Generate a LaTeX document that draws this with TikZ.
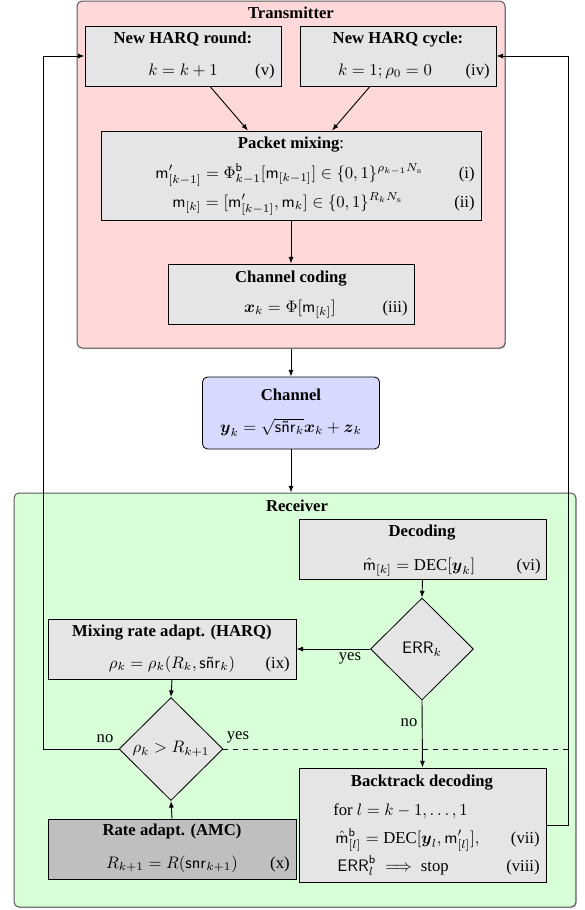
\documentclass[tikz,border=0pt]{standalone}
\usepackage{amsmath,amssymb}
\usepackage[no-math]{fontspec}
\setmainfont{Liberation Serif}
\usetikzlibrary{arrows.meta,shapes.geometric,calc,shadows}
\tikzset{
 grp/.style={rounded corners=3pt, draw=black!65, line width=0.6pt, inner sep=0pt,
   drop shadow={shadow xshift=0.5pt, shadow yshift=-0.6pt, opacity=0.45, fill=black!60}},
 stepbox/.style={draw, fill=gray!20, line width=0.5pt, inner sep=0pt},
 dia/.style={diamond, draw, fill=gray!20, aspect=1, inner sep=0pt, line width=0.5pt},
 txt/.style={inner sep=0pt, anchor=base},
 txl/.style={inner sep=0pt, anchor=base west},
 tag/.style={inner sep=0pt, anchor=base east},
 ttl/.style={inner sep=0pt, anchor=base, font=\bfseries},
 lbl/.style={inner sep=0pt},
 arr/.style={-{Latex[length=4pt,width=3pt]}, line width=0.55pt},
 conn/.style={line width=0.55pt}
}
\begin{document}
\begin{tikzpicture}[x=0.6pt,y=-0.6pt]
\useasboundingbox (0,0) rectangle (585,910);
% Transmitter
\node[grp, fill=red!15, minimum width=256.8pt, minimum height=208.2pt] (tx) at (291,174.5) {};
\node[ttl] (txT) at (291,18) {Transmitter};
\node[stepbox, minimum width=117.6pt, minimum height=36pt] (round) at (183,56) {};
\node[ttl] (roundT) at (183,43) {New HARQ round:};
\node[txt] (roundF) at (183,75) {$k = k+1$};
\node[tag] (roundG) at (275,75) {(v)};
\node[stepbox, minimum width=117.6pt, minimum height=36pt] (cycle) at (398,56) {};
\node[ttl] (cycleT) at (398,43) {New HARQ cycle:};
\node[txt] (cycleF) at (385,75) {$k = 1; \rho_0 = 0$};
\node[tag] (cycleG) at (490,75) {(iv)};
\node[stepbox, minimum width=228pt, minimum height=53.4pt] (mix) at (291,175.5) {};
\node[ttl] (mixT) at (291,148) {Packet mixing\textmd{:}};
\node[txl] (mixF1) at (155,178) {$\mathsf{m}'_{[k-1]} = \Phi^{\mathsf{b}}_{k-1}[\mathsf{m}_{[k-1]}] \in \{0,1\}^{\rho_{k-1} N_{\mathrm{s}}}$};
\node[txl] (mixF2) at (172,207) {$\mathsf{m}_{[k]} = [\mathsf{m}'_{[k-1]}, \mathsf{m}_k] \in \{0,1\}^{R_k N_{\mathrm{s}}}$};
\node[tag] (mixG1) at (475,178) {(i)};
\node[tag] (mixG2) at (475,207) {(ii)};
\node[stepbox, minimum width=147.6pt, minimum height=36pt] (coding) at (291,294) {};
\node[ttl] (codingT) at (291,282) {Channel coding};
\node[txt] (codingF) at (290,312) {$\boldsymbol{x}_k = \Phi[\mathsf{m}_{[k]}]$};
\node[tag] (codingG) at (408,312) {(iii)};
% Channel
\node[draw, rounded corners=3pt, fill=blue!15, line width=0.5pt, inner sep=0pt,
      minimum width=106.2pt, minimum height=43.2pt] (chan) at (291,413) {};
\node[ttl] (chanT) at (291,400) {Channel};
\node[txt] (chanF) at (291,432) {$\boldsymbol{y}_k = \sqrt{\mathsf{s\tilde{n}r}_k}\boldsymbol{x}_k + \boldsymbol{z}_k$};
% Receiver
\node[grp, fill=green!15, minimum width=337.2pt, minimum height=248.4pt] (rx) at (295,700) {};
\node[ttl] (rxT) at (297,511) {Receiver};
\node[stepbox, minimum width=148.2pt, minimum height=36pt] (dec) at (422.5,549) {};
\node[ttl] (decT) at (422,536) {Decoding};
\node[txt] (decF) at (419,570) {$\hat{\mathsf{m}}_{[k]} = \text{DEC}[\boldsymbol{y}_k]$};
\node[tag] (decG) at (541,570) {(vi)};
\node[dia, minimum width=61.8pt, minimum height=61.2pt] (err) at (422,649) {$\mathsf{ERR}_k$};
\node[stepbox, minimum width=148.8pt, minimum height=36pt] (mixb) at (172,649) {};
\node[ttl] (mixbT) at (172,636) {Mixing rate adapt. (HARQ)};
\node[txt] (mixbF) at (172,668) {$\rho_k = \rho_k(R_k, \mathsf{s\tilde{n}r}_k)$};
\node[tag] (mixbG) at (290,668) {(ix)};
\node[dia, minimum width=62.4pt, minimum height=61.8pt] (rho) at (171,749) {$\rho_k > R_{k+1}$};
\node[stepbox, fill=gray!50, minimum width=148.8pt, minimum height=36pt] (rate) at (172,849) {};
\node[ttl] (rateT) at (172,835) {Rate adapt. (AMC)};
\node[txt] (rateF) at (172,868) {$R_{k+1} = R(\mathsf{snr}_{k+1})$};
\node[tag] (rateG) at (290,868) {(x)};
\node[stepbox, minimum width=148.2pt, minimum height=68.4pt] (back) at (422.5,825) {};
\node[ttl] (backT) at (422,786) {Backtrack decoding};
\node[txl] (backF1) at (333,815) {for $l = k-1,\dots,1$};
\node[txl] (backF2) at (335,843) {$\hat{\mathsf{m}}^{\mathsf{b}}_{[l]} = \text{DEC}[\boldsymbol{y}_l, \mathsf{m}'_{[l]}],$};
\node[txl] (backF3) at (337,871) {$\mathsf{ERR}^{\mathsf{b}}_l \implies$ stop};
\node[tag] (backG2) at (540,843) {(vii)};
\node[tag] (backG3) at (540,871) {(viii)};
% labels
\node[lbl] (noA) at (105,739) {no};
\node[lbl] (yesA) at (238,737) {yes};
\node[lbl] (yesB) at (350,658) {yes};
\node[lbl] (noB) at (409,723) {no};
% loop corners
\coordinate (loopL) at (43,56);
\coordinate (loopR) at (568,56);
% connectors
\draw[arr] ($(round.south)+(27,0)$) -- ($(mix.north)+(-43,0)$);
\draw[arr] ($(cycle.south)+(-28,0)$) -- ($(mix.north)+(41,0)$);
\draw[arr] (mix.south) -- (coding.north);
\draw[arr] (tx.south) -- (chan.north);
\draw[arr] (chan.south) -- (chan.south |- rx.north);
\draw[arr] (dec.south) -- (err.north);
\draw[arr] (err.west) -- (mixb.east);
\draw[arr] (err.south) -- (back.north);
\draw[arr] (mixb.south) -- (rho.north);
\draw[arr] (rate.north) -- (rho.south);
\draw[arr] (rho.west) -| (loopL) -- (round.west);
\draw[arr] (back.east) -| (loopR) -- (cycle.east);
\draw[conn, dashed] (rho.east) -- (rho.east -| loopR);
\end{tikzpicture}
\end{document}
